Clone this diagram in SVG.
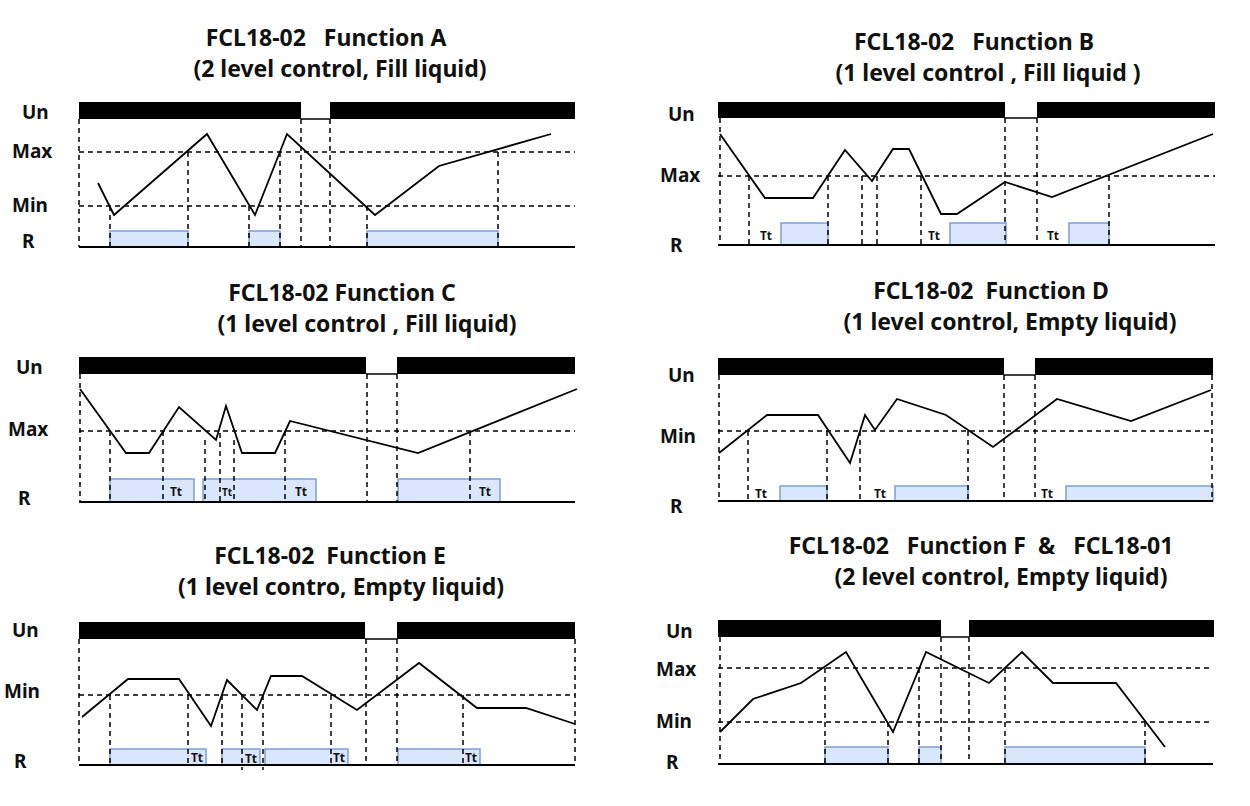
<svg xmlns="http://www.w3.org/2000/svg" width="1250" height="806" viewBox="0 0 1250 806">
<style>
text{font-family:"Noto Sans","Open Sans","Liberation Sans",sans-serif;font-weight:bold;fill:#111;white-space:pre}
.t{font-size:23px;text-anchor:middle}
.l{font-size:19px}
.tt{font-size:12px;text-anchor:middle}
.bar{fill:#000}
.base{stroke:#000;stroke-width:2;fill:none}
.gap{stroke:#000;stroke-width:1.5;fill:none}
.d{stroke:#000;stroke-width:1.5;stroke-dasharray:5 4;fill:none}
.w{stroke:#000;stroke-width:1.8;fill:none;stroke-linejoin:miter}
.r{fill:#dae6fb;stroke:#7f9fd0;stroke-width:1.5}
</style>
<rect width="1250" height="806" fill="#fff"/>

<!-- A -->
<g id="panelA">
<text class="t" x="326" y="46">FCL18-02   Function A</text>
<text class="t" x="340" y="77">(2 level control, Fill liquid)</text>
<text class="l" x="22" y="119">Un</text><text class="l" x="12" y="158">Max</text><text class="l" x="12" y="212">Min</text><text class="l" x="22" y="248">R</text>
<rect class="bar" x="79" y="102" width="222" height="17"/><rect class="bar" x="330" y="102" width="245" height="17"/>
<line class="gap" x1="301" y1="119" x2="330" y2="119"/>
<rect class="r" x="110" y="231" width="78" height="16"/><rect class="r" x="249" y="231" width="31" height="16"/><rect class="r" x="367" y="231" width="131" height="16"/>
<path class="d" d="M79 152H575M79 206H575M79 119V247M301 119V247M330 119V247M110 206V247M188 152V247M249 206V247M280 152V247M367 206V247M498 152V247"/>
<polyline class="w" points="98,183 114,215 207,134 255,215 287,134 375,215 439,166 551,134"/>
<line class="base" x1="79" y1="247" x2="575" y2="247"/>
</g>

<!-- B -->
<g id="panelB">
<text class="t" x="974" y="50">FCL18-02   Function B</text>
<text class="t" x="988" y="81">(1 level control , Fill liquid )</text>
<text class="l" x="668" y="121">Un</text><text class="l" x="660" y="182">Max</text><text class="l" x="670" y="252">R</text>
<rect class="bar" x="718" y="102" width="287" height="16"/><rect class="bar" x="1037" y="102" width="178" height="16"/>
<line class="gap" x1="1005" y1="118" x2="1037" y2="118"/>
<rect class="r" x="781" y="223" width="47" height="22"/><rect class="r" x="950" y="223" width="56" height="22"/><rect class="r" x="1069" y="223" width="40" height="22"/>
<path class="d" d="M718 176H1215M720 118V245M1005 118V245M1037 118V245M749 176V245M828 176V245M862 176V245M877 176V245M921 176V245M1109 176V245"/>
<polyline class="w" points="720,134 765,198 813,198 845,150 872,181 893,149 909,149 941,214 957,214 1005,182 1052,197 1213,134"/>
<text class="tt" x="766" y="240">Tt</text><text class="tt" x="934" y="240">Tt</text><text class="tt" x="1053" y="240">Tt</text>
<line class="base" x1="718" y1="245" x2="1215" y2="245"/>
</g>

<!-- C -->
<g id="panelC">
<text class="t" x="342" y="301">FCL18-02 Function C</text>
<text class="t" x="367" y="332">(1 level control , Fill liquid)</text>
<text class="l" x="16" y="374">Un</text><text class="l" x="8" y="436">Max</text><text class="l" x="18" y="505">R</text>
<rect class="bar" x="79" y="357" width="287" height="17"/><rect class="bar" x="397" y="357" width="178" height="17"/>
<line class="gap" x1="366" y1="374" x2="397" y2="374"/>
<rect class="r" x="110" y="479" width="84" height="23"/><rect class="r" x="203" y="479" width="113" height="23"/><rect class="r" x="398" y="479" width="102" height="23"/>
<path class="d" d="M79 431H575M80 374V502M367 374V502M397 374V502M110 431V502M163 431V502M205 440V502M220 433V502M234 440V502M285 431V502M470 431V502"/>
<polyline class="w" points="80,389 126,453 149,453 179,407 216,440 226,406 242,453 275,453 290,421 418,453 577,389"/>
<text class="tt" x="176" y="496">Tt</text><text class="tt" x="227" y="496" style="font-size:10px">Tt</text><text class="tt" x="301" y="496">Tt</text><text class="tt" x="485" y="496">Tt</text>
<line class="base" x1="79" y1="502" x2="575" y2="502"/>
</g>

<!-- D -->
<g id="panelD">
<text class="t" x="991" y="299">FCL18-02  Function D</text>
<text class="t" x="1010" y="330">(1 level control, Empty liquid)</text>
<text class="l" x="668" y="382">Un</text><text class="l" x="660" y="443">Min</text><text class="l" x="670" y="513">R</text>
<rect class="bar" x="718" y="358" width="286" height="17"/><rect class="bar" x="1035" y="358" width="178" height="17"/>
<line class="gap" x1="1004" y1="375" x2="1035" y2="375"/>
<rect class="r" x="780" y="486" width="47" height="15"/><rect class="r" x="895" y="486" width="73" height="15"/><rect class="r" x="1066" y="486" width="147" height="15"/>
<path class="d" d="M718 431H1213M719 375V501M1004 375V501M1035 375V501M1212 375V501M748 431V501M827 431V501M860 431V501M968 431V501"/>
<polyline class="w" points="719,453 767,415 818,415 850,463 865,415 875,430 897,399 946,415 993,447 1057,399 1131,421 1211,390"/>
<text class="tt" x="761" y="498">Tt</text><text class="tt" x="880" y="498">Tt</text><text class="tt" x="1047" y="498">Tt</text>
<line class="base" x1="718" y1="501" x2="1213" y2="501"/>
</g>

<!-- E -->
<g id="panelE">
<text class="t" x="330" y="564">FCL18-02  Function E</text>
<text class="t" x="341" y="595">(1 level contro, Empty liquid)</text>
<text class="l" x="12" y="637">Un</text><text class="l" x="4" y="698">Min</text><text class="l" x="14" y="768">R</text>
<rect class="bar" x="79" y="622" width="286" height="17"/><rect class="bar" x="397" y="622" width="178" height="17"/>
<line class="gap" x1="365" y1="639" x2="397" y2="639"/>
<rect class="r" x="110" y="749" width="96" height="16"/><rect class="r" x="222" y="749" width="38" height="16"/><rect class="r" x="265" y="749" width="83" height="16"/><rect class="r" x="398" y="749" width="82" height="16"/>
<path class="d" d="M79 695H575M79 639V765M366 639V765M397 639V765M575 639V765M110 695V765M188 695V765M222 695V765M242 695V770M263 695V770M331 695V765M463 695V765"/>
<polyline class="w" points="82,717 128,679 179,679 211,726 227,680 257,710 271,676 302,676 357,710 419,663 477,708 526,708 575,724"/>
<text class="tt" x="197" y="762">Tt</text><text class="tt" x="251" y="763">Tt</text><text class="tt" x="339" y="762">Tt</text><text class="tt" x="471" y="762">Tt</text>
<line class="base" x1="79" y1="765" x2="575" y2="765"/>
</g>

<!-- F -->
<g id="panelF">
<text class="t" x="981" y="554">FCL18-02   Function F  &amp;   FCL18-01</text>
<text class="t" x="1001" y="585">(2 level control, Empty liquid)</text>
<text class="l" x="666" y="638">Un</text><text class="l" x="656" y="676">Max</text><text class="l" x="656" y="728">Min</text><text class="l" x="666" y="769">R</text>
<rect class="bar" x="718" y="620" width="223" height="17"/><rect class="bar" x="969" y="620" width="245" height="17"/>
<line class="gap" x1="941" y1="637" x2="969" y2="637"/>
<rect class="r" x="825" y="747" width="63" height="17"/><rect class="r" x="919" y="747" width="22" height="17"/><rect class="r" x="1005" y="747" width="140" height="17"/>
<path class="d" d="M718 668H1213M718 722H1213M720 637V764M941 637V764M969 637V764M825 668V764M888 722V764M919 668V764M1005 668V764M1145 722V764"/>
<polyline class="w" points="720,732 753,699 801,683 846,652 893,732 926,652 989,683 1022,652 1053,683 1116,683 1165,747"/>
<line class="base" x1="718" y1="764" x2="1213" y2="764"/>
</g>
</svg>
